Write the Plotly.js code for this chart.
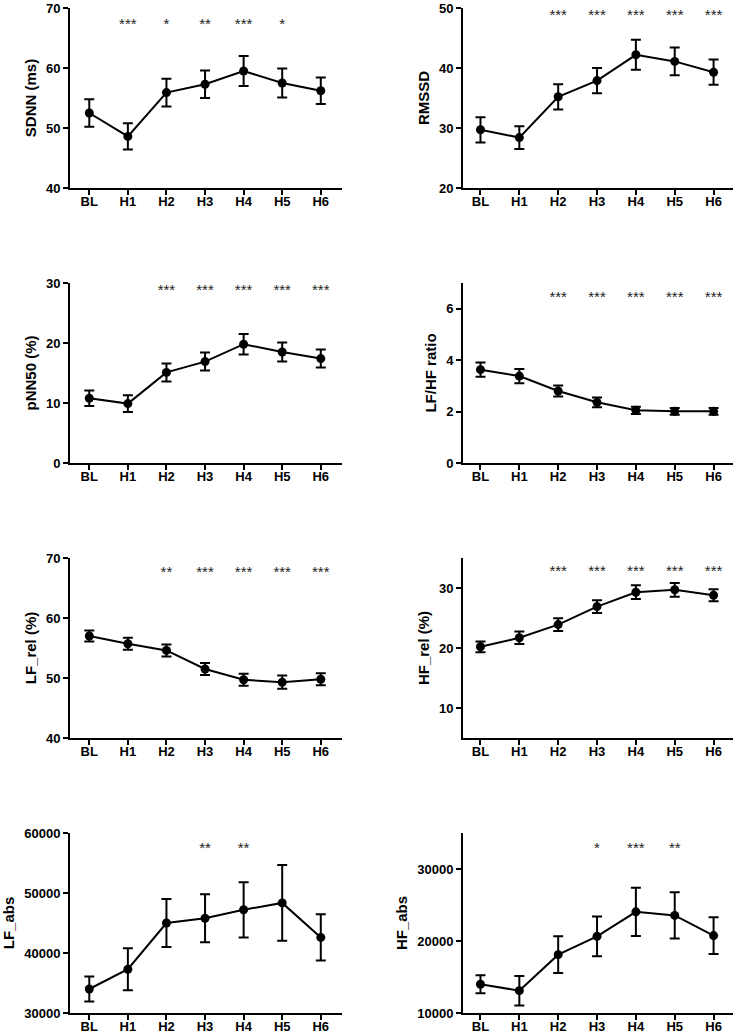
<!DOCTYPE html>
<html>
<head>
<meta charset="utf-8">
<script src="https://cdn.plot.ly/plotly-3.0.1.min.js"></script>
<style>html,body{margin:0;padding:0;background:#fff}#chart{width:737px;height:1035px}</style>
</head>
<body>
<div id="chart"></div>
<script>
// ---------- data ----------
const categories = ["BL", "H1", "H2", "H3", "H4", "H5", "H6"];

const sdnnMean = [52.5, 48.6, 55.9, 57.3, 59.5, 57.5, 56.2];
const sdnnErr  = [2.3, 2.2, 2.3, 2.3, 2.5, 2.4, 2.2];
const sdnnSig  = ["", "***", "*", "**", "***", "*", ""];

const rmssdMean = [29.7, 28.4, 35.2, 37.9, 42.2, 41.1, 39.3];
const rmssdErr  = [2.1, 1.9, 2.1, 2.1, 2.5, 2.3, 2.1];
const rmssdSig  = ["", "", "***", "***", "***", "***", "***"];

const pnn50Mean = [10.8, 9.9, 15.1, 16.9, 19.8, 18.5, 17.4];
const pnn50Err  = [1.3, 1.4, 1.5, 1.5, 1.7, 1.6, 1.5];
const pnn50Sig  = ["", "", "***", "***", "***", "***", "***"];

const lfhfMean = [3.63, 3.38, 2.80, 2.36, 2.05, 2.01, 2.01];
const lfhfErr  = [0.28, 0.28, 0.21, 0.19, 0.14, 0.13, 0.13];
const lfhfSig  = ["", "", "***", "***", "***", "***", "***"];

const lfRelMean = [57.0, 55.7, 54.6, 51.5, 49.7, 49.3, 49.8];
const lfRelErr  = [0.9, 1.0, 1.0, 1.0, 1.0, 1.1, 1.0];
const lfRelSig  = ["", "", "**", "***", "***", "***", "***"];

const hfRelMean = [20.2, 21.7, 23.9, 26.9, 29.3, 29.7, 28.8];
const hfRelErr  = [0.9, 1.05, 1.05, 1.05, 1.15, 1.15, 1.0];
const hfRelSig  = ["", "", "***", "***", "***", "***", "***"];

const lfAbsMean = [34000, 37300, 45000, 45800, 47200, 48350, 42600];
const lfAbsErr  = [2100, 3500, 4000, 4000, 4600, 6300, 3850];
const lfAbsSig  = ["", "", "", "**", "**", "", ""];

const hfAbsMean = [14000, 13100, 18100, 20650, 24050, 23550, 20750];
const hfAbsErr  = [1250, 2050, 2550, 2770, 3340, 3220, 2550];
const hfAbsSig  = ["", "", "", "*", "***", "**", ""];

// ---------- panels ----------
const panels = [
  {title: "SDNN (ms)",    mean: sdnnMean,  err: sdnnErr,  sig: sdnnSig,  range: [40, 70],   dtick: 10,    sigY: 67.2,  col: 0, row: 0},
  {title: "RMSSD",        mean: rmssdMean, err: rmssdErr, sig: rmssdSig, range: [20, 50],   dtick: 10,    sigY: 48.7,  col: 1, row: 0},
  {title: "pNN50 (%)",    mean: pnn50Mean, err: pnn50Err, sig: pnn50Sig, range: [0, 30],    dtick: 10,    sigY: 28.7,  col: 0, row: 1},
  {title: "LF/HF ratio",  mean: lfhfMean,  err: lfhfErr,  sig: lfhfSig,  range: [0, 7],     dtick: 2,     sigY: 6.42,  col: 1, row: 1},
  {title: "LF_rel (%)",   mean: lfRelMean, err: lfRelErr, sig: lfRelSig, range: [40, 70],   dtick: 10,    sigY: 67.5,  col: 0, row: 2},
  {title: "HF_rel (%)",   mean: hfRelMean, err: hfRelErr, sig: hfRelSig, range: [5, 35],    tick0: 10, dtick: 10, sigY: 32.7, col: 1, row: 2},
  {title: "LF_abs",       mean: lfAbsMean, err: lfAbsErr, sig: lfAbsSig, range: [30000, 60000], dtick: 10000, sigY: 57300, col: 0, row: 3},
  {title: "HF_abs",       mean: hfAbsMean, err: hfAbsErr, sig: hfAbsSig, range: [10000, 35000], dtick: 10000, sigY: 32800, col: 1, row: 3}
];

const W = 737, H = 1035;
const colX = [[70, 342], [463, 733]];
const colRange = [[-0.5, 6.55], [-0.45, 6.5]];
const rowTop = [8, 283, 558, 833];
const plotH = 180;

const FAM = "Liberation Sans, Arial, sans-serif";
const tickFont = {family: FAM, size: 13, color: "#000", weight: "bold"};

const data = [];
const layout = {
  width: W, height: H,
  margin: {l: 0, r: 0, t: 0, b: 0},
  paper_bgcolor: "#fff", plot_bgcolor: "#fff",
  showlegend: false
};

panels.forEach((p, i) => {
  const n = i + 1;
  const sfx = n === 1 ? "" : String(n);
  const xa = "x" + sfx, ya = "y" + sfx;
  data.push({
    type: "scatter", mode: "lines+markers",
    x: categories, y: p.mean,
    xaxis: xa, yaxis: ya,
    line: {color: "#000", width: 2},
    marker: {color: "#000", size: 9, symbol: "circle"},
    error_y: {type: "data", array: p.err, visible: true, color: "#000", thickness: 2, width: 5},
    cliponaxis: false, hoverinfo: "skip"
  });
  data.push({
    type: "scatter", mode: "text",
    x: categories, y: categories.map(() => p.sigY),
    text: p.sig,
    xaxis: xa, yaxis: ya,
    textposition: "middle center",
    textfont: {family: FAM, size: 15, color: "#222"},
    cliponaxis: false, hoverinfo: "skip"
  });
  const cx = colX[p.col];
  const top = rowTop[p.row];
  layout["xaxis" + sfx] = {
    domain: [cx[0] / W, cx[1] / W],
    anchor: ya,
    type: "category",
    range: colRange[p.col],
    showline: true, linecolor: "#000", linewidth: 2,
    showgrid: false, zeroline: false,
    ticks: "outside", ticklen: 5, tickwidth: 2, tickcolor: "#000",
    ticklabelstandoff: -5,
    tickfont: tickFont,
    fixedrange: true
  };
  const yax = {
    domain: [1 - (top + plotH) / H, 1 - top / H],
    anchor: xa,
    range: p.range,
    dtick: p.dtick,
    tickformat: "d",
    showline: true, linecolor: "#000", linewidth: 2,
    showgrid: false, zeroline: false,
    ticks: "outside", ticklen: 5, tickwidth: 2, tickcolor: "#000",
    tickfont: tickFont,
    title: {text: p.title, font: {family: FAM, size: 15, color: "#000", weight: "bold"}, standoff: 6},
    fixedrange: true
  };
  if (p.tick0 !== undefined) yax.tick0 = p.tick0;
  layout["yaxis" + sfx] = yax;
});

Plotly.newPlot("chart", data, layout, {displayModeBar: false, staticPlot: true});
</script>
</body>
</html>
